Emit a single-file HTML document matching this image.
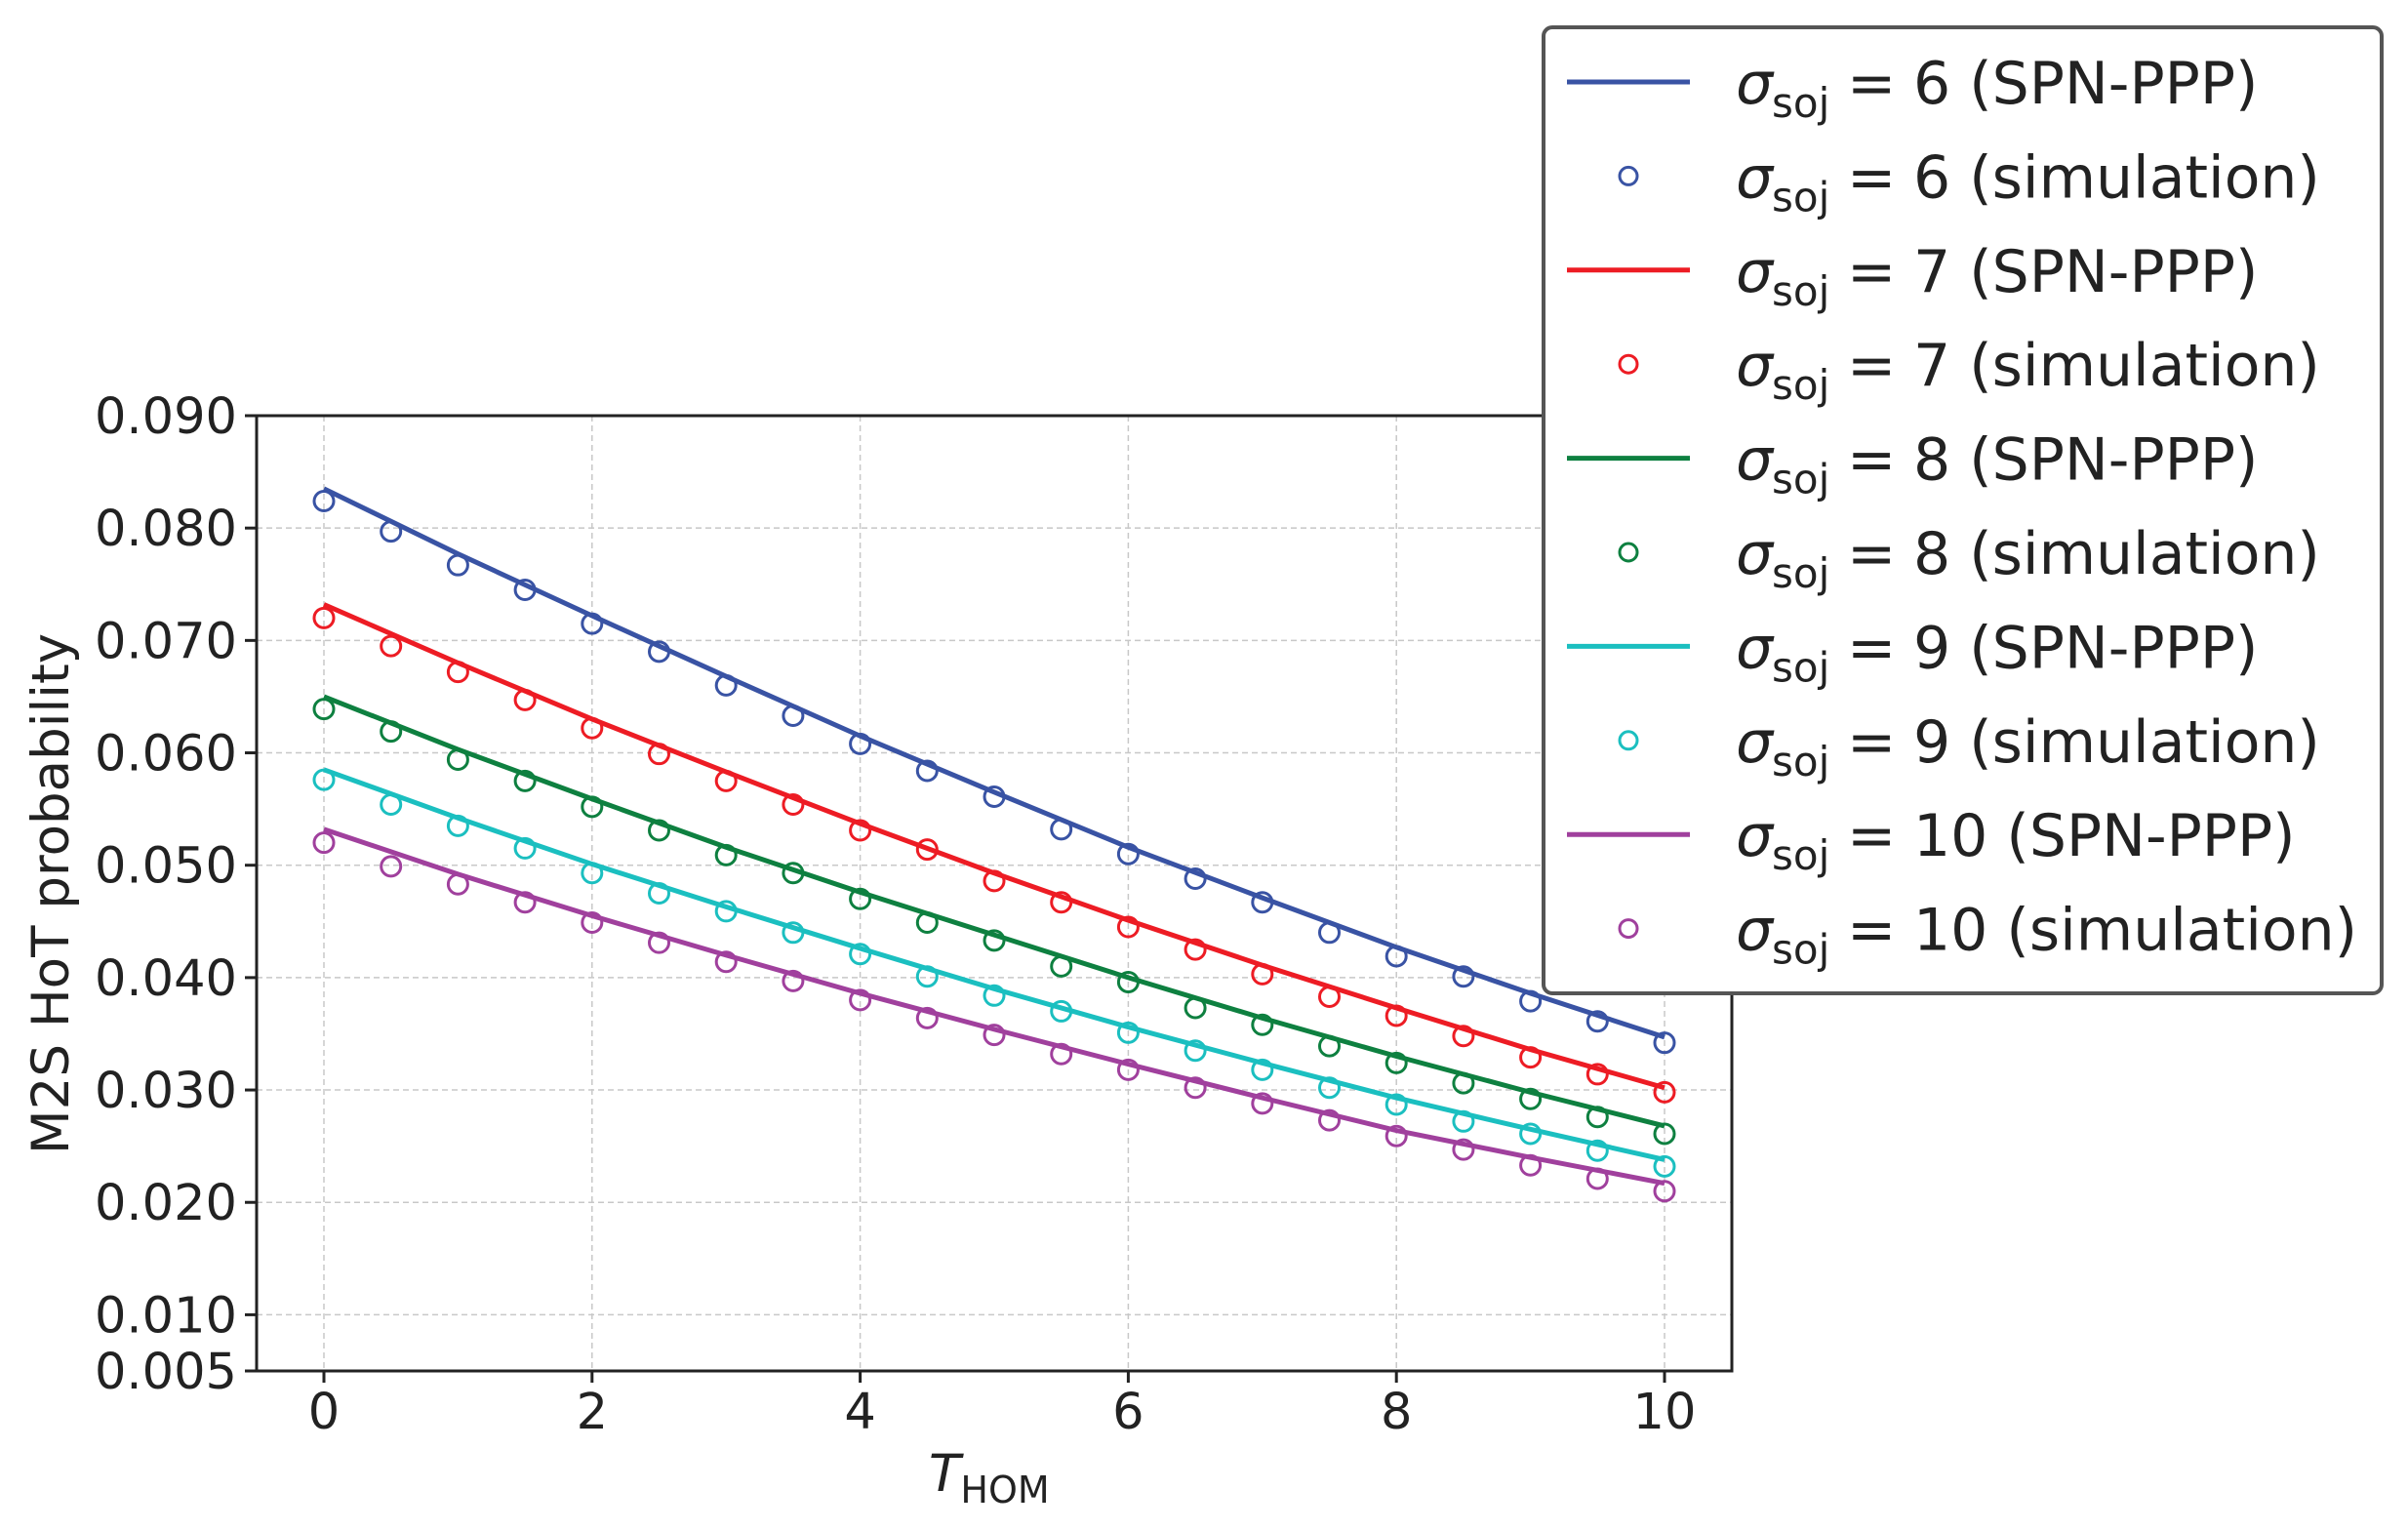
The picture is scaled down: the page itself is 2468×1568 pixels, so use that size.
<!DOCTYPE html>
<html><head><meta charset="utf-8"><style>
html,body{margin:0;padding:0;background:#fff;}
svg{display:block;font-family:"DejaVu Sans","Liberation Sans",sans-serif;}
</style></head>
<body>
<svg id="chart" width="2468" height="1568" viewBox="0 0 2468 1568" xmlns="http://www.w3.org/2000/svg">
<rect width="2468" height="1568" fill="#fff"/>
<g id="grid"></g>
<g id="series"></g>
<rect x="263" y="426" width="1512" height="979" fill="none" stroke="#222" stroke-width="3"/>
<g id="axes"></g>
<text transform="translate(70,916) rotate(-90)" text-anchor="middle" font-size="53" fill="#222">M2S HoT probability</text>
<text x="952" y="1528" font-size="53" fill="#222"><tspan font-style="italic">T</tspan><tspan font-size="38" dy="12">HOM</tspan></text>
<g id="legend"></g>
</svg>
<script>
const xSim = [0,0.5,1,1.5,2,2.5,3,3.5,4,4.5,5,5.5,6,6.5,7,7.5,8,8.5,9,9.5,10];
const xLine = [0,1,2,3,4,5,6,7,8,9,10];
const seriesNames = ["6","7","8","9","10"];
const simBlue = [0.0824,0.0797,0.0767,0.0745,0.0715,0.0690,0.0660,0.0633,0.0608,0.0584,0.0561,0.0532,0.0510,0.0488,0.0467,0.0440,0.0419,0.0401,0.0379,0.0361,0.0342];
const simRed = [0.0720,0.0695,0.0672,0.0647,0.0622,0.0599,0.0575,0.0554,0.0531,0.0514,0.0486,0.0467,0.0445,0.0425,0.0403,0.0383,0.0366,0.0348,0.0329,0.0314,0.0298];
const simGreen = [0.0639,0.0619,0.0594,0.0575,0.0552,0.0531,0.0509,0.0493,0.0470,0.0449,0.0433,0.0410,0.0396,0.0373,0.0358,0.0339,0.0324,0.0306,0.0292,0.0276,0.0261];
const simCyan = [0.0576,0.0554,0.0535,0.0515,0.0493,0.0475,0.0459,0.0440,0.0421,0.0401,0.0384,0.0370,0.0351,0.0335,0.0318,0.0302,0.0287,0.0272,0.0261,0.0246,0.0232];
const simPurple = [0.0520,0.0499,0.0483,0.0467,0.0449,0.0431,0.0414,0.0397,0.0380,0.0364,0.0349,0.0332,0.0318,0.0302,0.0288,0.0273,0.0259,0.0247,0.0233,0.0221,0.0210];
const lineBlue = [0.0835,0.0777,0.0722,0.0668,0.0615,0.0565,0.0516,0.0471,0.0427,0.0386,0.0347];
const lineRed = [0.0732,0.0680,0.0630,0.0583,0.0537,0.0493,0.0451,0.0411,0.0373,0.0336,0.0302];
const lineGreen = [0.0650,0.0603,0.0559,0.0516,0.0476,0.0438,0.0400,0.0364,0.0330,0.0298,0.0268];
const lineCyan = [0.0585,0.0542,0.0501,0.0463,0.0426,0.0390,0.0356,0.0324,0.0293,0.0265,0.0238];
const linePurple = [0.0532,0.0492,0.0455,0.0420,0.0386,0.0354,0.0323,0.0293,0.0264,0.0240,0.0217];
const yTicks = [0.005,0.010,0.020,0.030,0.040,0.050,0.060,0.070,0.080,0.090];
const yTickLabels = ["0.005","0.010","0.020","0.030","0.040","0.050","0.060","0.070","0.080","0.090"];
const xTicks = [0,2,4,6,8,10];
const xTickLabels = ["0","2","4","6","8","10"];

const NS="http://www.w3.org/2000/svg";
const colors=["#3953a4","#ed1c24","#0e8040","#1bbfc0","#a0409d"];
const sims=[simBlue,simRed,simGreen,simCyan,simPurple];
const lines=[lineBlue,lineRed,lineGreen,lineCyan,linePurple];
const X0=332,X1=1706,YB=1405,YT=426;
function xs(v){return X0+(X1-X0)*v/10;}
function ys(v){return YB-(YB-YT)*(v-0.005)/(0.090-0.005);}
function mk(tag,attrs,parent){const e=document.createElementNS(NS,tag);for(const k in attrs)e.setAttribute(k,attrs[k]);parent.appendChild(e);return e;}
const grid=document.getElementById('grid'),axes=document.getElementById('axes'),ser=document.getElementById('series'),leg=document.getElementById('legend');
yTicks.forEach((t,i)=>{
  const y=ys(t);
  const g=mk('line',{x1:263,x2:1775,y1:y,y2:y,stroke:'#c8c8c8','stroke-width':1.5,'stroke-dasharray':'6,4'},grid);
  
  
  const tk=mk('line',{x1:251,x2:263,y1:y,y2:y,stroke:'#222','stroke-width':3},axes);
  
  
  const tx=mk('text',{x:243,y:y+18,'text-anchor':'end','font-size':51,fill:'#222'},axes);
  tx.textContent=yTickLabels[i];
  
  
});
xTicks.forEach((t,i)=>{
  const x=xs(t);
  const g=mk('line',{x1:x,x2:x,y1:426,y2:1405,stroke:'#c8c8c8','stroke-width':1.5,'stroke-dasharray':'6,4'},grid);
  
  
  const tk=mk('line',{x1:x,x2:x,y1:1405,y2:1417,stroke:'#222','stroke-width':3},axes);
  
  
  const tx=mk('text',{x:x,y:1464,'text-anchor':'middle','font-size':51,fill:'#222'},axes);
  tx.textContent=xTickLabels[i];
  
  
});
sims.forEach((arr,s)=>{
  const pts=lines[s].map((v,i)=>xs(xLine[i])+','+ys(v)).join(' ');
  const pl=mk('polyline',{points:pts,fill:'none',stroke:colors[s],'stroke-width':5,'stroke-linejoin':'round'},ser);
  
  
  arr.forEach((v,i)=>{
    const c=mk('circle',{cx:xs(xSim[i]),cy:ys(v),r:10,fill:'none',stroke:colors[s],'stroke-width':3},ser);
    
    
  });
});
const box=mk('rect',{x:1582,y:28,width:2441-1582,height:990,rx:9,fill:'#fff',stroke:'#555','stroke-width':4},leg);


for(let r=0;r<10;r++){
  const s=Math.floor(r/2),cy=84+r*96.4,by=cy+22;
  if(r%2===0){
    const l=mk('line',{x1:1606,x2:1732,y1:cy,y2:cy,stroke:colors[s],'stroke-width':5},leg);
    
    
  }else{
    const c=mk('circle',{cx:1669,cy:cy,r:9,fill:'none',stroke:colors[s],'stroke-width':3},leg);
    
    
  }
  const t=mk('text',{x:1779,y:by,'font-size':60,fill:'#222'},leg);
  
  
  t.innerHTML='<tspan font-style="italic">σ</tspan><tspan x="1816" font-size="42" dy="14">soj</tspan>'+
    '<tspan x="1893" dy="-14">=</tspan><tspan x="1961">'+seriesNames[s]+(r%2===0?' (SPN-PPP)':' (simulation)')+'</tspan>';
}
</script>
</body></html>
